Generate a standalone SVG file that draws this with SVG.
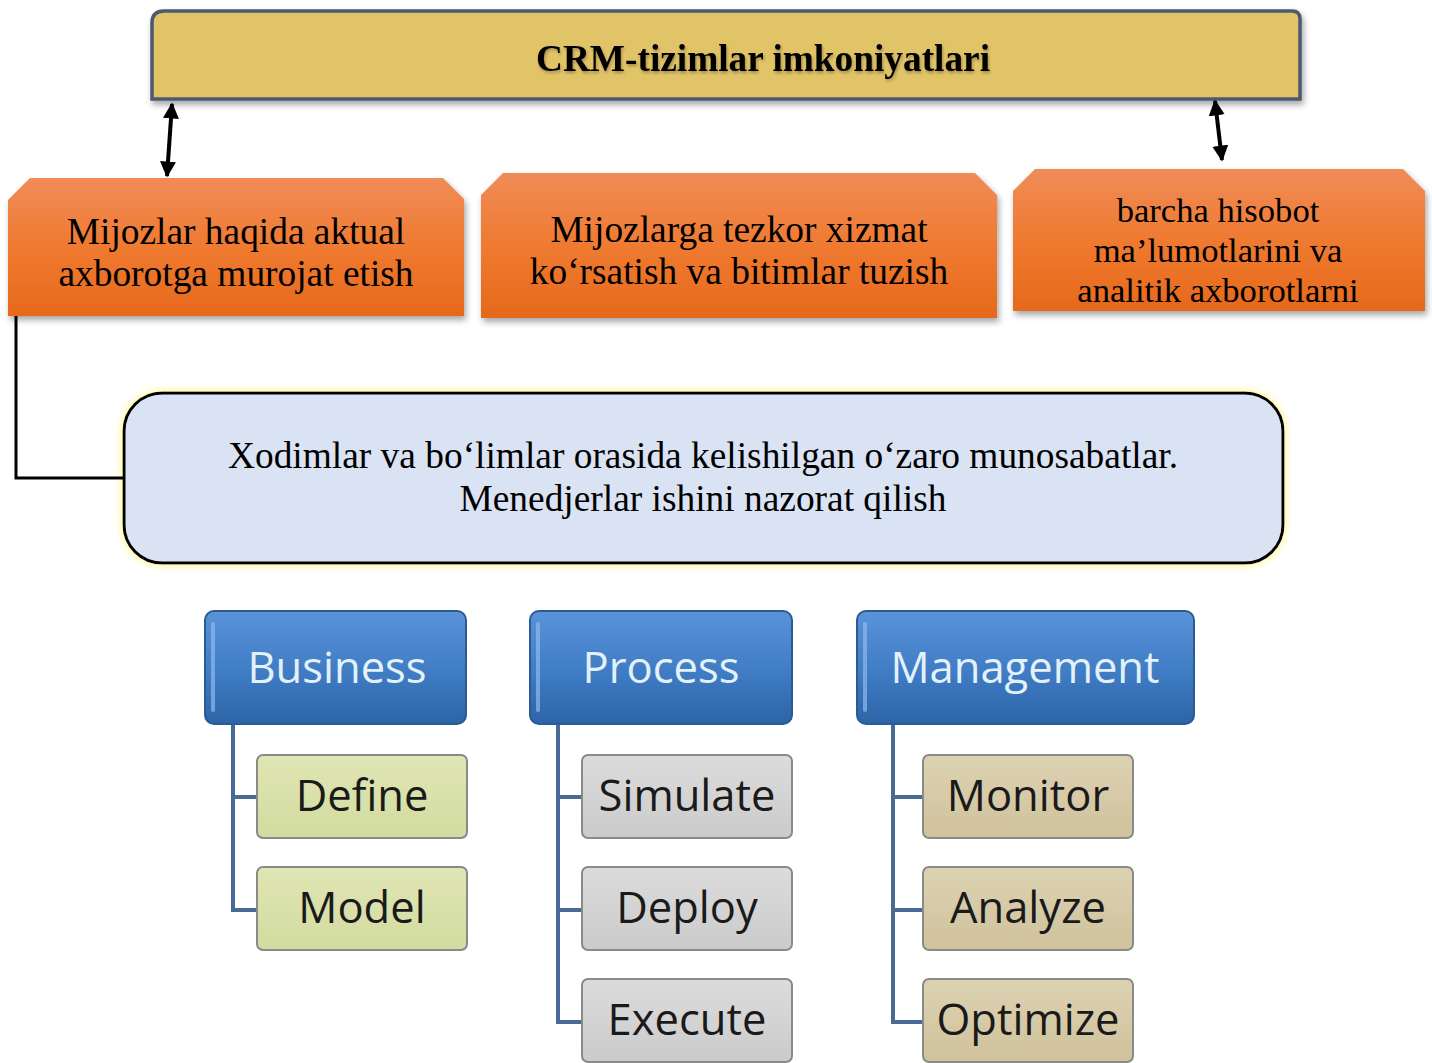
<svg xmlns="http://www.w3.org/2000/svg" width="1432" height="1063" viewBox="0 0 1432 1063">
<defs>
<linearGradient id="gOr" x1="0" y1="0" x2="0" y2="1"><stop offset="0" stop-color="#f08c58"/><stop offset="0.5" stop-color="#ef7a30"/><stop offset="1" stop-color="#e6691c"/></linearGradient>
<linearGradient id="gBl" x1="0" y1="0" x2="0" y2="1"><stop offset="0" stop-color="#5a93da"/><stop offset="0.55" stop-color="#3f7cc4"/><stop offset="1" stop-color="#2c64a6"/></linearGradient>
<linearGradient id="gGy" x1="0" y1="0" x2="0" y2="1"><stop offset="0" stop-color="#dcdcdc"/><stop offset="1" stop-color="#cbcbcb"/></linearGradient>
<linearGradient id="gGr" x1="0" y1="0" x2="0" y2="1"><stop offset="0" stop-color="#e0e6b4"/><stop offset="1" stop-color="#d2dba0"/></linearGradient>
<linearGradient id="gTn" x1="0" y1="0" x2="0" y2="1"><stop offset="0" stop-color="#ddd2b2"/><stop offset="1" stop-color="#cfc29c"/></linearGradient>
<filter id="sh" x="-5%" y="-10%" width="110%" height="130%"><feDropShadow dx="2" dy="4" stdDeviation="3" flood-color="#000" flood-opacity="0.35"/></filter>
<filter id="glow" x="-5%" y="-10%" width="110%" height="120%"><feDropShadow dx="0" dy="0" stdDeviation="4" flood-color="#fff36a" flood-opacity="0.9"/></filter>
<filter id="tsh" x="-5%" y="-20%" width="110%" height="150%"><feDropShadow dx="1" dy="2" stdDeviation="1.5" flood-color="#000" flood-opacity="0.3"/></filter>
<marker id="ah" viewBox="0 0 10 10" refX="9" refY="5" markerWidth="4" markerHeight="4" orient="auto-start-reverse"><path d="M0,0 L10,5 L0,10 z" fill="#000"/></marker>
</defs>
<style>
.ser{font-family:"Liberation Serif","Times New Roman",serif;fill:#000;text-anchor:middle}
.t34{font-size:37.4px}
.t32{font-size:34.6px}
.san{font-family:"Open Sans","Noto Sans","Liberation Sans",sans-serif;text-anchor:middle;font-size:43.5px}
.hd{fill:url(#gBl);stroke:#2a5b94;stroke-width:2}
.hdt{fill:#e3f1fb}
.ch{stroke:#8a8a8a;stroke-width:2}
.cht{fill:#1a1a1a}
.tree{fill:none;stroke:#4a6a96;stroke-width:4}
.orb{fill:url(#gOr);filter:url(#sh)}
</style>

<g id="title">
<path d="M164,11 H1292 Q1300,11 1300,19 V99 H152 V23 Q152,11 164,11 Z" fill="#e2c467" stroke="#4b5a72" stroke-width="3.5" filter="url(#sh)"/>
<text x="763" y="71" class="ser" font-size="37.3" font-weight="bold" filter="url(#tsh)">CRM-tizimlar imkoniyatlari</text>
</g>

<g id="box1">
<path class="orb" d="M30,178 H443 L464,199 V316 H8 V200 Z"/>
<text x="236" y="244" class="ser t34">Mijozlar haqida aktual</text>
<text x="236" y="286" class="ser t34">axborotga murojat etish</text>
</g>

<g id="box2">
<path class="orb" d="M503,173 H975 L997,195 V318 H481 V195 Z"/>
<text x="739" y="242" class="ser t34">Mijozlarga tezkor xizmat</text>
<text x="739" y="284" class="ser t34">ko‘rsatish va bitimlar tuzish</text>
</g>

<g id="box3">
<path class="orb" d="M1035,169 H1403 L1425,191 V311 H1013 V191 Z"/>
<text x="1218" y="222" class="ser t32">barcha hisobot</text>
<text x="1218" y="262" class="ser t32">ma’lumotlarini va</text>
<text x="1218" y="302" class="ser t32">analitik axborotlarni</text>
</g>

<g id="box4">
<rect x="124" y="393" width="1159" height="170" rx="38" fill="#dae3f3" stroke="#000" stroke-width="3" filter="url(#glow)"/>
<text x="703" y="468" class="ser t34">Xodimlar va bo‘limlar orasida kelishilgan o‘zaro munosabatlar.</text>
<text x="703" y="511" class="ser t34">Menedjerlar ishini nazorat qilish</text>
</g>

<g id="connectors">
<line x1="172" y1="104" x2="167" y2="176" stroke="#000" stroke-width="4" marker-start="url(#ah)" marker-end="url(#ah)"/>
<line x1="1215" y1="101" x2="1222" y2="160" stroke="#000" stroke-width="4" marker-start="url(#ah)" marker-end="url(#ah)"/>
<polyline points="16,316 16,478 124,478" fill="none" stroke="#000" stroke-width="3"/>
<path class="tree" d="M233,724 V910 H258 M233,797 H258"/>
<path class="tree" d="M558,724 V1022 H583 M558,797 H583 M558,910 H583"/>
<path class="tree" d="M893,724 V1022 H924 M893,797 H924 M893,910 H924"/>
</g>

<g id="business">
<rect x="205" y="611" width="261" height="113" rx="9" class="hd"/>
<rect x="211" y="622" width="4" height="90" rx="2" fill="#8fb9ea" opacity="0.7"/>
<text x="337" y="683" class="san hdt">Business</text>
</g>
<g id="process">
<rect x="530" y="611" width="262" height="113" rx="9" class="hd"/>
<rect x="536" y="622" width="4" height="90" rx="2" fill="#8fb9ea" opacity="0.7"/>
<text x="661" y="683" class="san hdt">Process</text>
</g>
<g id="management">
<rect x="857" y="611" width="337" height="113" rx="9" class="hd"/>
<rect x="863" y="622" width="4" height="90" rx="2" fill="#8fb9ea" opacity="0.7"/>
<text x="1025" y="683" class="san hdt" font-size="45.5">Management</text>
</g>

<g id="define"><rect x="257" y="755" width="210" height="83" rx="6" fill="url(#gGr)" class="ch"/><text x="362" y="811" class="san cht">Define</text></g>
<g id="model"><rect x="257" y="867" width="210" height="83" rx="6" fill="url(#gGr)" class="ch"/><text x="362" y="923" class="san cht">Model</text></g>

<g id="simulate"><rect x="582" y="755" width="210" height="83" rx="6" fill="url(#gGy)" class="ch"/><text x="687" y="811" class="san cht">Simulate</text></g>
<g id="deploy"><rect x="582" y="867" width="210" height="83" rx="6" fill="url(#gGy)" class="ch"/><text x="687" y="923" class="san cht">Deploy</text></g>
<g id="execute"><rect x="582" y="979" width="210" height="83" rx="6" fill="url(#gGy)" class="ch"/><text x="687" y="1035" class="san cht">Execute</text></g>

<g id="monitor"><rect x="923" y="755" width="210" height="83" rx="6" fill="url(#gTn)" class="ch"/><text x="1028" y="811" class="san cht">Monitor</text></g>
<g id="analyze"><rect x="923" y="867" width="210" height="83" rx="6" fill="url(#gTn)" class="ch"/><text x="1028" y="923" class="san cht">Analyze</text></g>
<g id="optimize"><rect x="923" y="979" width="210" height="83" rx="6" fill="url(#gTn)" class="ch"/><text x="1028" y="1035" class="san cht">Optimize</text></g>
</svg>
